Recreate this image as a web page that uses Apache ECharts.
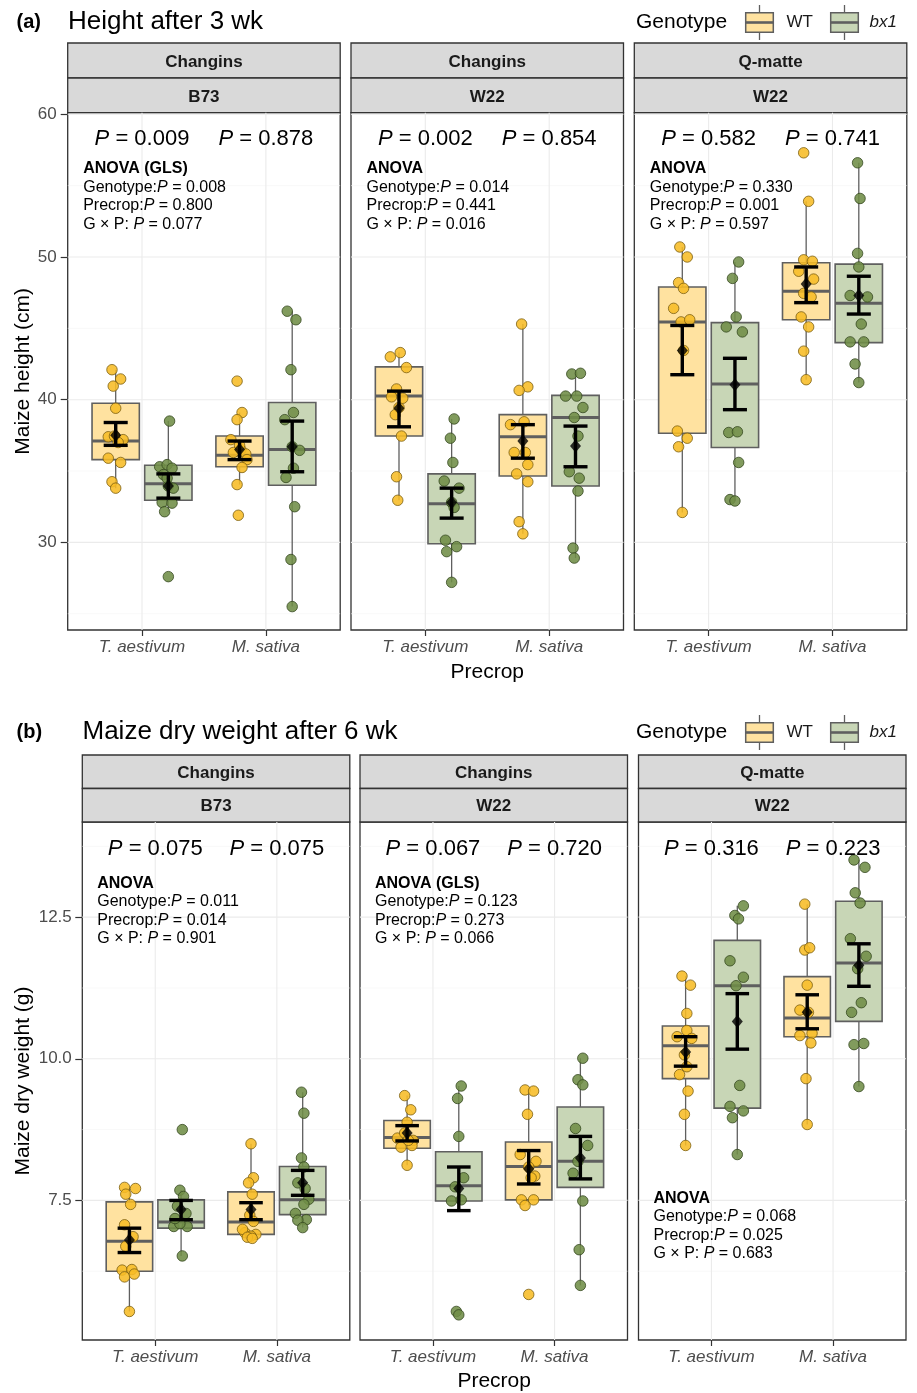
<!DOCTYPE html>
<html>
<head>
<meta charset="utf-8">
<script src="https://cdn.jsdelivr.net/npm/echarts@6/dist/echarts.min.js"></script>
<style>
  html, body { margin: 0; padding: 0; background: #ffffff; }
  #chart { width: 917px; height: 1393px; }
</style>
</head>
<body>
<div id="chart"></div>
<script>
// ---------------------------------------------------------------------------
// Data
// ---------------------------------------------------------------------------
const precrops = ['T. aestivum', 'M. sativa'];
const genotypes = ['WT', 'bx1'];
const sites = ['Changins', 'Changins', 'Q-matte'];
const maizeLines = ['B73', 'W22', 'W22'];

const heightTicks = [30, 40, 50, 60];
const heightMinorTicks = [25, 35, 45, 55];
const weightTicks = [7.5, 10.0, 12.5];
const weightMinorTicks = [6.25, 8.75, 11.25, 13.75];

// Group order inside every facet:
// [WT / T. aestivum, bx1 / T. aestivum, WT / M. sativa, bx1 / M. sativa]
// Jitter offsets are in hundredths of one precrop slot.

// --- (a) Height after 3 wk (cm) ---
// Changins, B73
const hB73Pts = [
  [42.1, 41.45, 40.95, 39.4, 37.4, 37.2, 37.45, 37.0, 35.9, 35.6, 34.25, 33.8],
  [38.5, 35.3, 35.45, 35.2, 34.75, 33.95, 33.8, 32.8, 32.75, 32.15, 27.6, 34.5],
  [41.3, 39.1, 38.6, 37.2, 36.5, 36.2, 36.3, 35.8, 35.25, 34.05, 31.9, 36.8],
  [46.2, 45.6, 42.1, 39.1, 38.6, 36.7, 36.45, 35.2, 34.55, 32.5, 28.8, 25.5]
];
const hB73Jit = [
  [-3, 4, -2, 0, -6, 6, -1, 2, -6, 4, -3, 0],
  [1, -7, -1, 3, -4, 0, 4, -5, 3, -3, 0, -1],
  [-2, 2, -2, -7, 1, 5, -5, 6, 2, -2, -1, 0],
  [-4, 3, -1, 1, -6, 0, 6, 1, -5, 2, -1, 0]
];
const hB73Box = [
  [33.8, 35.8, 37.1, 39.75, 42.1],
  [32.15, 32.95, 34.1, 35.4, 38.5],
  [34.05, 35.3, 36.1, 37.45, 39.1],
  [25.5, 34.0, 36.5, 39.8, 46.2]
];
const hB73Mean = [37.5, 33.95, 36.5, 36.7];
const hB73Se = [[36.8, 38.4], [33.1, 34.8], [35.8, 37.1], [34.95, 38.5]];

// Changins, W22
const hW22Pts = [
  [43.0, 43.3, 42.25, 40.75, 40.2, 39.45, 37.45, 34.6, 32.95, 40.1, 38.95],
  [38.65, 37.3, 35.6, 34.3, 33.8, 32.8, 30.15, 29.7, 29.35, 27.2, 32.45],
  [45.3, 40.9, 40.65, 38.25, 38.45, 36.3, 36.3, 35.45, 34.8, 34.25, 31.45, 30.6],
  [41.8, 41.85, 40.25, 40.25, 39.45, 38.75, 37.45, 34.95, 34.5, 33.6, 29.6, 28.9]
];
const hW22Jit = [
  [-7, 1, 6, -2, -6, 0, 2, -2, -1, 3, -3],
  [2, -1, 1, -6, 6, 0, -5, 4, -4, 0, 2],
  [-1, 4, -3, -10, 1, 2, -7, 4, -5, 4, -3, 0],
  [-3, 4, -8, 1, 6, -1, 2, -5, 3, 2, -2, -1]
];
const hW22Box = [
  [32.95, 37.45, 40.25, 42.3, 43.3],
  [27.2, 29.9, 32.7, 34.8, 38.65],
  [30.6, 34.65, 37.4, 38.95, 45.3],
  [28.9, 33.95, 38.75, 40.3, 41.85]
];
const hW22Mean = [39.4, 32.8, 37.1, 36.75];
const hW22Se = [[38.1, 40.6], [31.7, 33.8], [35.9, 38.25], [35.3, 38.15]];

// Q-matte, W22
const hQmPts = [
  [50.7, 50.0, 48.2, 47.8, 46.4, 45.45, 45.6, 43.45, 37.8, 37.3, 36.7, 32.1],
  [49.65, 48.5, 45.8, 45.1, 44.75, 37.7, 37.75, 35.6, 33.0, 32.9],
  [57.3, 53.9, 49.8, 49.7, 49.0, 48.45, 47.45, 47.2, 45.8, 45.1, 43.4, 41.4],
  [56.6, 54.1, 50.25, 49.3, 47.3, 47.2, 45.3, 44.05, 44.05, 42.5, 41.2]
];
const hQmJit = [
  [-2, 4, -3, 1, -7, -1, 6, 1, -4, 4, -3, 0],
  [3, -2, 1, -7, 6, -5, 2, 3, -4, 0],
  [-2, 2, -2, 5, -6, 6, -2, 4, -4, 2, -2, 0],
  [-1, 1, -1, 0, -7, 7, 2, -7, 4, -3, 0]
];
const hQmBox = [
  [32.1, 37.65, 45.45, 47.9, 50.7],
  [32.9, 36.65, 41.1, 45.4, 49.65],
  [41.4, 45.6, 47.6, 49.6, 53.9],
  [41.2, 44.0, 46.75, 49.5, 56.6]
];
const hQmMean = [43.45, 41.05, 48.1, 47.3];
const hQmSe = [[41.75, 45.2], [39.3, 42.9], [46.8, 49.3], [46.0, 48.65]];

const heightP = [['0.009', '0.878'], ['0.002', '0.854'], ['0.582', '0.741']];
const heightAnovaHead = ['ANOVA (GLS)', 'ANOVA', 'ANOVA'];
const heightAnovaG = ['0.008', '0.014', '0.330'];
const heightAnovaP = ['0.800', '0.441', '0.001'];
const heightAnovaGxP = ['0.077', '0.016', '0.597'];

// --- (b) Maize dry weight after 6 wk (g) ---
// Changins, B73
const wB73Pts = [
  [7.73, 7.71, 7.61, 7.43, 7.07, 6.86, 6.69, 6.27, 6.28, 6.15, 6.2, 5.54],
  [8.75, 7.68, 7.57, 7.4, 7.27, 7.04, 7.04, 7.09, 6.52, 7.18],
  [8.5, 7.9, 7.81, 7.61, 7.24, 7.13, 6.93, 6.9, 6.87, 6.99, 6.85, 6.83],
  [9.41, 9.04, 8.25, 8.09, 7.81, 7.71, 7.52, 7.43, 7.27, 7.16, 7.15, 7.02]
];
const wB73Jit = [
  [-4, 5, -3, 1, -4, 3, -3, -6, 2, -4, 4, 0],
  [1, -1, 2, -3, 4, -6, 5, -1, 1, -5],
  [0, 2, -2, 1, -1, 2, -5, 4, 0, -7, -3, 1],
  [-1, 1, -1, 1, -4, 2, 5, 1, -6, 3, -4, 0]
];
const wB73Box = [
  [5.54, 6.25, 6.78, 7.475, 7.73],
  [6.52, 7.01, 7.12, 7.51, 7.68],
  [6.83, 6.9, 7.12, 7.65, 8.5],
  [7.02, 7.25, 7.51, 8.1, 9.41]
];
const wB73Mean = [6.8, 7.34, 7.34, 7.81];
const wB73Se = [[6.58, 7.01], [7.16, 7.5], [7.16, 7.46], [7.59, 8.03]];

// Changins, W22
const wW22Pts = [
  [9.35, 9.1, 8.88, 8.6, 8.69, 8.56, 8.44, 8.47, 8.12, 8.56],
  [9.52, 9.3, 8.63, 7.9, 7.74, 7.49, 7.51, 5.54, 5.48],
  [9.45, 9.43, 9.02, 8.31, 8.19, 8.09, 7.93, 7.9, 7.51, 7.51, 7.41, 5.84],
  [10.01, 9.63, 9.54, 8.77, 8.47, 8.19, 7.98, 7.49, 6.63, 6.0]
];
const wW22Jit = [
  [-2, 3, 0, -8, -2, 5, -5, 4, 0, 1],
  [2, -1, 0, 4, -3, -6, 2, -2, 0],
  [-3, 4, -1, -7, 6, 0, 5, 2, -6, 4, -3, 0],
  [2, -2, 2, -4, 6, -2, -6, 2, -1, 0]
];
const wW22Box = [
  [8.12, 8.42, 8.61, 8.91, 9.35],
  [7.49, 7.49, 7.76, 8.36, 9.52],
  [7.41, 7.51, 8.1, 8.53, 9.45],
  [6.0, 7.73, 8.19, 9.15, 10.01]
];
const wW22Mean = [8.69, 7.71, 8.06, 8.25];
const wW22Se = [[8.55, 8.82], [7.32, 8.09], [7.79, 8.38], [7.88, 8.63]];

// Q-matte, W22
const wQmPts = [
  [11.46, 11.3, 10.8, 10.5, 10.39, 10.36, 10.07, 9.86, 9.72, 9.43, 9.02, 8.47],
  [12.7, 12.53, 12.47, 11.73, 11.44, 11.29, 9.53, 9.16, 9.08, 8.96, 8.31],
  [12.73, 11.92, 11.96, 11.3, 10.86, 10.82, 10.45, 10.41, 10.28, 9.65, 8.84],
  [13.51, 13.38, 12.93, 12.75, 12.12, 11.81, 11.59, 10.99, 10.82, 10.25, 10.27, 9.51]
];
const wQmJit = [
  [-3, 4, 1, 1, -7, 5, -1, 1, -5, 2, -1, 0],
  [5, -2, 1, -6, 5, -1, 2, -6, 5, -4, 0],
  [-2, -2, 2, 0, -6, 1, 4, -6, 3, -1, 0],
  [-4, 5, -3, 1, -7, 6, -1, 2, -6, -4, 4, 0]
];
const wQmBox = [
  [8.47, 9.65, 10.23, 10.58, 11.46],
  [8.31, 9.13, 11.29, 12.09, 12.7],
  [8.84, 10.39, 10.72, 11.45, 12.73],
  [9.51, 10.66, 11.69, 12.78, 13.51]
];
const wQmMean = [10.12, 10.66, 10.82, 11.65];
const wQmSe = [[9.87, 10.39], [10.17, 11.15], [10.53, 11.13], [11.28, 12.03]];

const weightP = [['0.075', '0.075'], ['0.067', '0.720'], ['0.316', '0.223']];
const weightAnovaHead = ['ANOVA', 'ANOVA (GLS)', 'ANOVA'];
const weightAnovaG = ['0.011', '0.123', '0.068'];
const weightAnovaP = ['0.014', '0.273', '0.025'];
const weightAnovaGxP = ['0.901', '0.066', '0.683'];

// ---------------------------------------------------------------------------
// Layout and styling
// ---------------------------------------------------------------------------
const FONT = "'Liberation Sans', Arial, Helvetica, sans-serif";
const BOX_FILL = ['#FFE2A0', '#C8D6B6'];
const PT_FILL = ['#F7BC26', '#6F8D47'];
const PT_EDGE = ['#7A5E10', '#34471F'];
const BOX_LINE = '#5F5F5F';
const DODGE = 0.2125;      // centre offset of each genotype inside a precrop slot
const BOX_HALF = 0.191;    // half box width (slot units)
const CAP_HALF = 0.097;    // half width of the error-bar caps

const panels = [
  {
    tag: '(a)', title: 'Height after 3 wk', titleX: 68, titleY: 22,
    yTitle: 'Maize height (cm)', stripTop: 43, stripMid: 78,
    top: 112.7, bottom: 630, lefts: [67.7, 351, 634.3], width: 272.5,
    yMin: 23.86, yMax: 60.11, ticks: heightTicks, minor: heightMinorTicks,
    fmt: v => String(v), labelMargin: 11, pY: 58.25,
    anovaAt: [[0.525, 56.2], [0.525, 56.2], [0.525, 56.2]],
    xTitleY: 672, legendY: 22.5,
    pts: [hB73Pts, hW22Pts, hQmPts], jit: [hB73Jit, hW22Jit, hQmJit],
    box: [hB73Box, hW22Box, hQmBox], mean: [hB73Mean, hW22Mean, hQmMean],
    se: [hB73Se, hW22Se, hQmSe], pv: heightP,
    aHead: heightAnovaHead, aG: heightAnovaG, aP: heightAnovaP, aGxP: heightAnovaGxP
  },
  {
    tag: '(b)', title: 'Maize dry weight after 6 wk', titleX: 82.5, titleY: 732,
    yTitle: 'Maize dry weight (g)', stripTop: 755, stripMid: 788.5,
    top: 822, bottom: 1340, lefts: [82.3, 360, 638.5], width: 267.5,
    yMin: 5.036, yMax: 14.18, ticks: weightTicks, minor: weightMinorTicks,
    fmt: v => v.toFixed(1), labelMargin: 10.5, pY: 13.7,
    anovaAt: [[0.523, 13.1], [0.523, 13.1], [0.523, 7.54]],
    xTitleY: 1381, legendY: 732.5,
    pts: [wB73Pts, wW22Pts, wQmPts], jit: [wB73Jit, wW22Jit, wQmJit],
    box: [wB73Box, wW22Box, wQmBox], mean: [wB73Mean, wW22Mean, wQmMean],
    se: [wB73Se, wW22Se, wQmSe], pv: weightP,
    aHead: weightAnovaHead, aG: weightAnovaG, aP: weightAnovaP, aGxP: weightAnovaGxP
  }
];

// x position of a group (0..3) on the precrop axis (slots at 1 and 2)
function groupX(g) {
  const slot = g < 2 ? 1 : 2;
  return slot + (g % 2 === 0 ? -DODGE : DODGE);
}

// ---------------------------------------------------------------------------
// Build option
// ---------------------------------------------------------------------------
const grids = [], xAxes = [], yAxes = [], series = [], graphics = [];

panels.forEach((P, p) => {
  // title + tag
  graphics.push({ type: 'text', x: 16.5, y: P.titleY, silent: true,
    style: { text: P.tag, fontFamily: FONT, fontSize: 20, fontWeight: 'bold', fill: '#000',
             align: 'left', verticalAlign: 'middle' } });
  graphics.push({ type: 'text', x: P.titleX, y: P.titleY, silent: true,
    style: { text: P.title, fontFamily: FONT, fontSize: 26, fill: '#000',
             align: 'left', verticalAlign: 'middle' } });

  // legend: Genotype [box] WT [box] bx1
  graphics.push({ type: 'text', x: 636, y: P.legendY, silent: true,
    style: { text: 'Genotype', fontFamily: FONT, fontSize: 21, fill: '#000',
             align: 'left', verticalAlign: 'middle' } });
  const keyX = [745.7, 830.7], textX = [786.5, 869.5];
  genotypes.forEach((gname, k) => {
    const x0 = keyX[k], cy = P.legendY, cx = x0 + 13.8;
    graphics.push({ type: 'line', silent: true,
      shape: { x1: cx, y1: cy - 17.5, x2: cx, y2: cy + 17.5 },
      style: { stroke: BOX_LINE, lineWidth: 1.3 } });
    graphics.push({ type: 'rect', silent: true,
      shape: { x: x0, y: cy - 9.8, width: 27.6, height: 19.6 },
      style: { fill: BOX_FILL[k], stroke: BOX_LINE, lineWidth: 1.5 } });
    graphics.push({ type: 'line', silent: true,
      shape: { x1: x0, y1: cy, x2: x0 + 27.6, y2: cy },
      style: { stroke: BOX_LINE, lineWidth: 2.6 } });
    graphics.push({ type: 'text', x: textX[k], y: cy, silent: true,
      style: { text: gname, fontFamily: FONT, fontSize: 17, fill: '#1A1A1A',
               fontStyle: k === 1 ? 'italic' : 'normal', align: 'left', verticalAlign: 'middle' } });
  });

  // y axis title
  graphics.push({ type: 'text', x: 23, y: (P.top + P.bottom) / 2, rotation: Math.PI / 2, silent: true,
    style: { text: P.yTitle, fontFamily: FONT, fontSize: 21, fill: '#000',
             align: 'center', verticalAlign: 'middle' } });
  // x axis title
  const xl = P.lefts[0], xr = P.lefts[2] + P.width;
  graphics.push({ type: 'text', x: (xl + xr) / 2, y: P.xTitleY, silent: true,
    style: { text: 'Precrop', fontFamily: FONT, fontSize: 21, fill: '#000',
             align: 'center', verticalAlign: 'middle' } });

  for (let f = 0; f < 3; f++) {
    const gi = p * 3 + f;
    const left = P.lefts[f];

    // facet strips
    [[P.stripTop, P.stripMid, sites[f]], [P.stripMid, P.top, maizeLines[f]]].forEach(s => {
      graphics.push({ type: 'rect', silent: true,
        shape: { x: left, y: s[0], width: P.width, height: s[1] - s[0] },
        style: { fill: '#D9D9D9', stroke: '#333333', lineWidth: 1.3 } });
      graphics.push({ type: 'text', x: left + P.width / 2, y: (s[0] + s[1]) / 2 + 1.5, silent: true,
        style: { text: s[2], fontFamily: FONT, fontSize: 17, fontWeight: 'bold', fill: '#1A1A1A',
                 align: 'center', verticalAlign: 'middle' } });
    });

    grids.push({ left: left, top: P.top, width: P.width, height: P.bottom - P.top,
      show: true, borderColor: '#333333', borderWidth: 1.3, backgroundColor: 'transparent' });

    xAxes.push({ type: 'value', gridIndex: gi, min: 0.4, max: 2.6,
      axisLine: { show: false },
      axisTick: { show: true, length: 6, customValues: [1, 2], lineStyle: { color: '#333333', width: 1.2 } },
      axisLabel: { show: true, customValues: [1, 2], margin: 9,
        formatter: v => (v === 1 ? precrops[0] : v === 2 ? precrops[1] : ''),
        fontFamily: FONT, fontSize: 17, fontStyle: 'italic', color: '#4D4D4D' },
      splitLine: { show: false } });

    yAxes.push({ type: 'value', gridIndex: gi, min: P.yMin, max: P.yMax,
      axisLine: { show: false },
      axisTick: { show: f === 0, length: 7, customValues: P.ticks, lineStyle: { color: '#333333', width: 1.2 } },
      axisLabel: { show: f === 0, customValues: P.ticks, margin: P.labelMargin,
        formatter: v => P.fmt(v), fontFamily: FONT, fontSize: 17, color: '#4D4D4D' },
      splitLine: { show: false } });

    const base = { xAxisIndex: gi, yAxisIndex: gi, silent: true, animation: false };

    // panel grid lines
    const glData = P.ticks.map(v => [v, 0]).concat(P.minor.map(v => [v, 1])).concat([[1, 2], [2, 2]]);
    series.push(Object.assign({}, base, {
      type: 'custom', z: 1, data: glData,
      renderItem: (params, api) => {
        const cs = params.coordSys;
        const v = api.value(0), k = api.value(1);
        if (k === 2) {
          const x = api.coord([v, P.yMin])[0];
          return { type: 'line', shape: { x1: x, y1: cs.y, x2: x, y2: cs.y + cs.height },
                   style: { stroke: '#EBEBEB', lineWidth: 1.1 } };
        }
        const y = api.coord([1, v])[1];
        return { type: 'line', shape: { x1: cs.x, y1: y, x2: cs.x + cs.width, y2: y },
                 style: { stroke: k === 0 ? '#EBEBEB' : '#F4F4F4', lineWidth: k === 0 ? 1.1 : 0.6 } };
      }
    }));

    // boxes
    series.push(Object.assign({}, base, {
      type: 'custom', z: 2,
      data: P.box[f].map((b, g) => [groupX(g), b[0], b[1], b[2], b[3], b[4], g % 2]),
      renderItem: (params, api) => {
        const x = api.value(0);
        const c = v => api.coord([x, v]);
        const cx = c(api.value(1))[0];
        const yLo = c(api.value(1))[1], yQ1 = c(api.value(2))[1], yMed = c(api.value(3))[1];
        const yQ3 = c(api.value(4))[1], yHi = c(api.value(5))[1];
        const hw = api.size([BOX_HALF, 0])[0];
        const k = api.value(6);
        return { type: 'group', children: [
          { type: 'line', shape: { x1: cx, y1: yHi, x2: cx, y2: yQ3 }, style: { stroke: BOX_LINE, lineWidth: 1.3 } },
          { type: 'line', shape: { x1: cx, y1: yQ1, x2: cx, y2: yLo }, style: { stroke: BOX_LINE, lineWidth: 1.3 } },
          { type: 'rect', shape: { x: cx - hw, y: yQ3, width: 2 * hw, height: yQ1 - yQ3 },
            style: { fill: BOX_FILL[k], stroke: BOX_LINE, lineWidth: 1.6 } },
          { type: 'line', shape: { x1: cx - hw, y1: yMed, x2: cx + hw, y2: yMed },
            style: { stroke: BOX_LINE, lineWidth: 3 } }
        ] };
      }
    }));

    // jittered observations
    [0, 1].forEach(k => {
      const data = [];
      [k, k + 2].forEach(g => {
        P.pts[f][g].forEach((v, i) => data.push([groupX(g) + P.jit[f][g][i] / 100, v]));
      });
      series.push(Object.assign({}, base, {
        type: 'scatter', name: genotypes[k], z: 3, data: data,
        symbol: 'circle', symbolSize: 10.5,
        itemStyle: { color: PT_FILL[k], opacity: 0.88, borderColor: PT_EDGE[k], borderWidth: 0.9 }
      }));
    });

    // mean ± SE
    series.push(Object.assign({}, base, {
      type: 'custom', z: 4,
      data: P.se[f].map((s, g) => [groupX(g), s[0], s[1]]),
      renderItem: (params, api) => {
        const x = api.value(0);
        const lo = api.coord([x, api.value(1)]), hi = api.coord([x, api.value(2)]);
        const hw = api.size([CAP_HALF, 0])[0];
        const st = { stroke: '#000000', lineWidth: 3.4 };
        return { type: 'group', children: [
          { type: 'line', shape: { x1: lo[0], y1: lo[1], x2: hi[0], y2: hi[1] }, style: st },
          { type: 'line', shape: { x1: lo[0] - hw, y1: lo[1], x2: lo[0] + hw, y2: lo[1] }, style: st },
          { type: 'line', shape: { x1: hi[0] - hw, y1: hi[1], x2: hi[0] + hw, y2: hi[1] }, style: st }
        ] };
      }
    }));
    series.push(Object.assign({}, base, {
      type: 'scatter', z: 5, data: P.mean[f].map((m, g) => [groupX(g), m]),
      symbol: 'diamond', symbolSize: [11, 13], itemStyle: { color: '#000000' }
    }));

    // P-values above each precrop
    const pv = P.pv[f];
    series.push(Object.assign({}, base, {
      type: 'custom', z: 6, data: [[1, P.pY], [2, P.pY]],
      renderItem: (params, api) => {
        const pt = api.coord([api.value(0), api.value(1)]);
        return { type: 'text', x: pt[0], y: pt[1],
          style: { text: '{i|P}{n| = ' + pv[params.dataIndex] + '}', align: 'center', verticalAlign: 'middle',
            rich: { i: { fontFamily: FONT, fontSize: 22, fontStyle: 'italic', fill: '#000' },
                    n: { fontFamily: FONT, fontSize: 22, fill: '#000' } } } };
      }
    }));

    // ANOVA summary
    const aLines = [
      P.aHead[f],
      '{n|Genotype:}{i|P}{n| = ' + P.aG[f] + '}',
      '{n|Precrop:}{i|P}{n| = ' + P.aP[f] + '}',
      '{n|G \u00d7 P: }{i|P}{n| = ' + P.aGxP[f] + '}'
    ];
    series.push(Object.assign({}, base, {
      type: 'custom', z: 6, data: [P.anovaAt[f]],
      renderItem: (params, api) => {
        const pt = api.coord([api.value(0), api.value(1)]);
        const rich = { i: { fontFamily: FONT, fontSize: 16, fontStyle: 'italic', fill: '#000' },
                       n: { fontFamily: FONT, fontSize: 16, fill: '#000' } };
        return { type: 'group', children: aLines.map((t, i) => ({
          type: 'text', x: pt[0], y: pt[1] + i * 18.6,
          style: i === 0
            ? { text: t, fontFamily: FONT, fontSize: 16, fontWeight: 'bold', fill: '#000', align: 'left', verticalAlign: 'middle' }
            : { text: t, rich: rich, align: 'left', verticalAlign: 'middle' }
        })) };
      }
    }));
  }
});

const chart = echarts.init(document.getElementById('chart'), null, { renderer: 'canvas', width: 917, height: 1393 });
chart.setOption({
  animation: false,
  backgroundColor: '#ffffff',
  grid: grids,
  xAxis: xAxes,
  yAxis: yAxes,
  series: series,
  graphic: { elements: graphics }
});
</script>
</body>
</html>
